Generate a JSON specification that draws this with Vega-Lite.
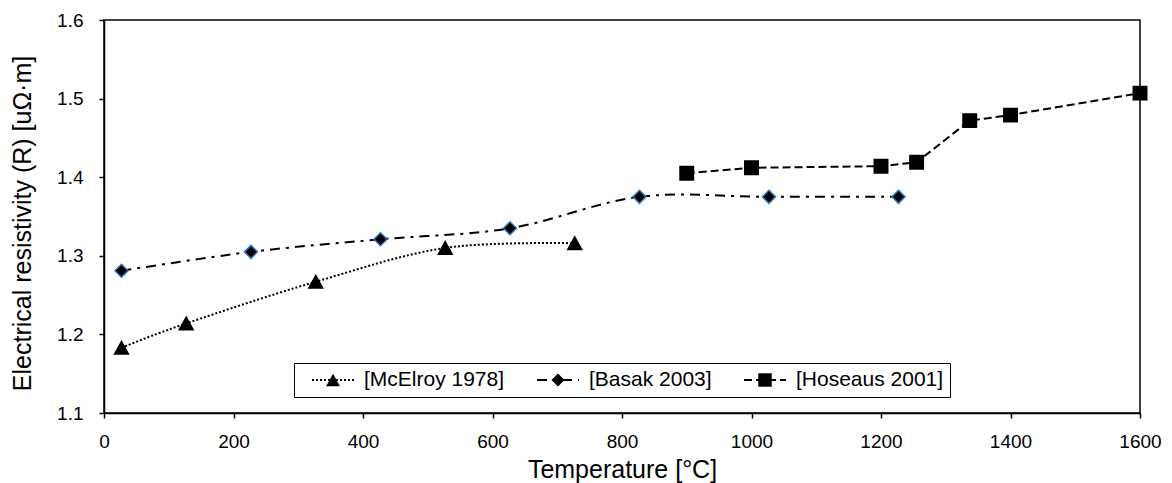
{
  "$schema": "https://vega.github.io/schema/vega-lite/v6.json",
  "width": 1036,
  "height": 393,
  "autosize": {"type": "none"},
  "padding": {"left": 104, "top": 20, "right": 32, "bottom": 70},
  "background": "white",
  "config": {
    "font": "Liberation Sans",
    "view": {"stroke": "black", "strokeWidth": 1.5}
  },
  "data": {
    "values": [
      {"series": "[McElroy 1978]", "T": 27, "R": 1.183},
      {"series": "[McElroy 1978]", "T": 127, "R": 1.214},
      {"series": "[McElroy 1978]", "T": 327, "R": 1.267},
      {"series": "[McElroy 1978]", "T": 527, "R": 1.31},
      {"series": "[McElroy 1978]", "T": 727, "R": 1.316},
      {"series": "[Basak 2003]", "T": 27, "R": 1.281},
      {"series": "[Basak 2003]", "T": 227, "R": 1.305},
      {"series": "[Basak 2003]", "T": 427, "R": 1.321},
      {"series": "[Basak 2003]", "T": 627, "R": 1.335},
      {"series": "[Basak 2003]", "T": 827, "R": 1.375},
      {"series": "[Basak 2003]", "T": 1027, "R": 1.375},
      {"series": "[Basak 2003]", "T": 1227, "R": 1.375},
      {"series": "[Hoseaus 2001]", "T": 900, "R": 1.405},
      {"series": "[Hoseaus 2001]", "T": 1000, "R": 1.412},
      {"series": "[Hoseaus 2001]", "T": 1200, "R": 1.414},
      {"series": "[Hoseaus 2001]", "T": 1255, "R": 1.419},
      {"series": "[Hoseaus 2001]", "T": 1337, "R": 1.472},
      {"series": "[Hoseaus 2001]", "T": 1400, "R": 1.479},
      {"series": "[Hoseaus 2001]", "T": 1600, "R": 1.507}
    ]
  },
  "encoding": {
    "x": {
      "field": "T", "type": "quantitative",
      "scale": {"domain": [0, 1600], "nice": false, "zero": false},
      "axis": {
        "title": "Temperature [°C]",
        "values": [0, 200, 400, 600, 800, 1000, 1200, 1400, 1600],
        "format": "d",
        "grid": false,
        "tickSize": 5, "tickWidth": 1.5, "tickColor": "black",
        "domainColor": "black", "domainWidth": 1.5,
        "labelFontSize": 19, "labelColor": "black", "labelPadding": 14, "labelFlush": false,
        "titleFontSize": 25, "titleFontWeight": "normal", "titleColor": "black", "titlePadding": 6,
        "encode": {"ticks": {"update": {"y": {"value": -5}}}}
      }
    },
    "y": {
      "field": "R", "type": "quantitative",
      "scale": {"domain": [1.1, 1.6], "nice": false, "zero": false},
      "axis": {
        "title": "Electrical resistivity (R) [uΩ·m]",
        "values": [1.1, 1.2, 1.3, 1.4, 1.5, 1.6],
        "format": ".1f",
        "grid": false,
        "tickSize": 5, "tickWidth": 1.5, "tickColor": "black",
        "domainColor": "black", "domainWidth": 1.5,
        "labelFontSize": 19, "labelColor": "black", "labelPadding": 16, "labelFlush": false,
        "titleFontSize": 25, "titleFontWeight": "normal", "titleColor": "black", "titlePadding": 21,
        "titleY": 203,
        "encode": {"ticks": {"update": {"x": {"value": 5}}}}
      }
    }
  },
  "layer": [
    {
      "transform": [{"filter": "datum.series !== '[Hoseaus 2001]'"}],
      "mark": {"type": "line", "interpolate": "cardinal", "strokeWidth": 2, "color": "black"},
      "encoding": {
        "strokeDash": {
          "field": "series", "type": "nominal",
          "scale": {"domain": ["[McElroy 1978]", "[Basak 2003]", "[Hoseaus 2001]"], "range": [[2, 2], [10, 6, 3, 6], [8, 4]]},
          "legend": {
            "title": null, "orient": "none", "legendX": 190, "legendY": 343, "direction": "horizontal",
            "symbolType": "stroke", "symbolSize": 1764, "symbolStrokeWidth": 2, "symbolStrokeColor": "black",
            "symbolOffset": 11, "labelOffset": 9, "labelFontSize": 21, "labelColor": "black",
            "columnPadding": 20, "padding": 6, "clipHeight": 22, "strokeColor": "black"
          }
        }
      }
    },
    {
      "transform": [{"filter": "datum.series === '[Hoseaus 2001]'"}],
      "mark": {"type": "line", "interpolate": "linear", "strokeWidth": 2, "color": "black"},
      "encoding": {
        "strokeDash": {
          "field": "series", "type": "nominal",
          "scale": {"domain": ["[McElroy 1978]", "[Basak 2003]", "[Hoseaus 2001]"], "range": [[2, 2], [10, 6, 3, 6], [8, 4]]}
        }
      }
    },
    {
      "mark": {"type": "point", "filled": true, "fill": "black", "opacity": 1, "size": 1764, "strokeWidth": 1.5},
      "encoding": {
        "shape": {
          "field": "series", "type": "nominal",
          "sort": ["[McElroy 1978]", "[Basak 2003]", "[Hoseaus 2001]"],
          "scale": {"range": ["M0,-0.3L0.33,0.3L-0.33,0.3Z", "M0,-0.31L0.31,0L0,0.31L-0.31,0Z", "M-0.32,-0.32H0.32V0.32H-0.32Z"]},
          "legend": {
            "title": null, "orient": "none", "legendX": 190, "legendY": 343, "direction": "horizontal",
            "symbolSize": 1764, "symbolStrokeWidth": 2, "symbolStrokeColor": "black", "symbolFillColor": "black",
            "symbolOffset": 11, "labelOffset": 9, "labelFontSize": 21, "labelColor": "black", "labelOpacity": 0,
            "columnPadding": 20, "padding": 6, "clipHeight": 22, "strokeColor": "transparent",
            "encode": {"symbols": {"update": {"stroke": {"signal": "datum.value === '[Basak 2003]' ? '#2e75b6' : 'black'"}, "fill": {"value": "black"}}}}
          }
        },
        "stroke": {"condition": {"test": "datum.series === '[Basak 2003]'", "value": "#2e75b6"}, "value": "black"}
      }
    }
  ]
}
